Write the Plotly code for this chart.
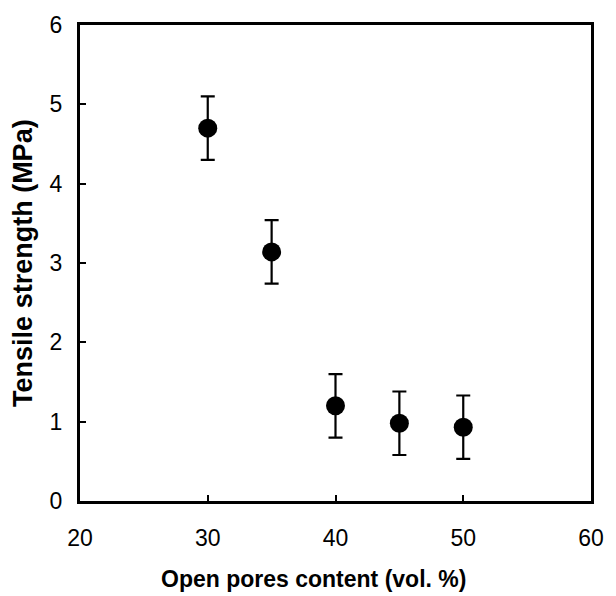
import plotly.graph_objects as go

pores = [30, 35, 40, 45, 50]
strength = [4.70, 3.14, 1.20, 0.98, 0.93]
err = [0.40, 0.40, 0.40, 0.40, 0.40]

x_ticks = [20, 30, 40, 50, 60]
y_ticks = [0, 1, 2, 3, 4, 5, 6]

x_title = "Open pores content (vol. %)"
y_title = "Tensile strength (MPa)"

fig = go.Figure()
fig.add_trace(go.Scatter(
    x=pores, y=strength, mode="markers",
    marker=dict(size=19, color="black"),
    error_y=dict(type="data", array=err, visible=True, color="black",
                 thickness=2.2, width=7),
    showlegend=False,
))

font = "Liberation Sans, Arial, sans-serif"
L, R, T, B = 80, 17, 23, 95
W, H = 616, 596
pw, ph = W - L - R, H - T - B

fig.update_layout(
    width=W, height=H,
    margin=dict(l=L, r=R, t=T, b=B),
    paper_bgcolor="white", plot_bgcolor="white",
    font=dict(family=font, color="black", size=18),
)
fig.update_xaxes(
    range=[20, 60], tickvals=x_ticks, ticks="inside", ticklen=6, tickwidth=2,
    tickcolor="black", showline=True, linewidth=3, linecolor="black",
    mirror=True, showgrid=False, zeroline=False,
    tickfont=dict(size=23), ticklabelstandoff=14,
)
fig.update_yaxes(
    range=[0, 6], tickvals=y_ticks, ticks="inside", ticklen=6, tickwidth=2,
    tickcolor="black", showline=True, linewidth=3, linecolor="black",
    mirror=True, showgrid=False, zeroline=False,
    tickfont=dict(size=23), ticklabelstandoff=10,
)
fig.add_annotation(
    text="<b>" + x_title + "</b>", xref="paper", yref="paper",
    x=(317 - L) / pw, y=((H - B) - 579) / ph, xanchor="center", yanchor="middle",
    showarrow=False, font=dict(size=23),
)
fig.add_annotation(
    text="<b>" + y_title + "</b>", xref="paper", yref="paper",
    x=(22 - L) / pw, y=((H - B) - 262) / ph, xanchor="center", yanchor="middle",
    textangle=-90, showarrow=False, font=dict(size=27),
)
fig.write_html("out.html")
